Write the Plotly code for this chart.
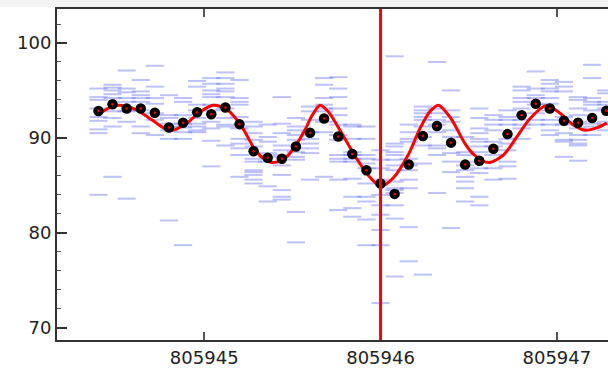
import plotly.graph_objects as go

# ---------------- data ----------------
dot_x = [805944.40, 805944.48, 805944.56, 805944.64, 805944.72, 805944.80, 805944.88, 805944.96,
         805945.04, 805945.12, 805945.20, 805945.28, 805945.36, 805945.44, 805945.52, 805945.60,
         805945.68, 805945.76, 805945.84, 805945.92, 805946.00, 805946.08, 805946.16, 805946.24,
         805946.32, 805946.40, 805946.48, 805946.56, 805946.64, 805946.72, 805946.80, 805946.88,
         805946.96, 805947.04, 805947.12, 805947.20, 805947.28]
dot_y = [92.84, 93.55, 93.1, 93.1, 92.65, 91.1, 91.6, 92.7, 92.5, 93.2, 91.45, 88.6, 87.9, 87.8,
         89.1, 90.55, 92.05, 90.15, 88.3, 86.6, 85.2, 84.1, 87.2, 90.2, 91.25, 89.5, 87.2, 87.6,
         88.85, 90.4, 92.4, 93.6, 93.1, 91.8, 91.6, 92.1, 92.85]

curve_x = [805944.399, 805944.484, 805944.541, 805944.617, 805944.711, 805944.806, 805944.901,
           805944.976, 805945.052, 805945.133, 805945.213, 805945.288, 805945.345, 805945.383,
           805945.449, 805945.515, 805945.572, 805945.610, 805945.657, 805945.704, 805945.789,
           805945.865, 805945.931, 805946.000, 805946.073, 805946.158, 805946.224, 805946.281,
           805946.328, 805946.394, 805946.479, 805946.526, 805946.612, 805946.697, 805946.773,
           805946.848, 805946.939, 805947.018, 805947.094, 805947.160, 805947.226, 805947.283]
curve_y = [92.50, 93.35, 93.40, 92.95, 91.80, 90.75, 91.55, 92.75, 93.45, 92.95, 91.20, 88.75,
           87.70, 87.40, 87.70, 89.10, 90.85, 92.30, 93.45, 92.75, 90.20, 87.80, 86.05, 84.90,
           85.80, 88.25, 91.00, 92.80, 93.45, 92.20, 89.40, 88.30, 87.40, 88.20, 90.10, 92.05,
           93.40, 92.60, 91.35, 90.80, 91.05, 91.55]

# individual samples per column (same order as dot_x)
dash_values = [
    [95.2, 94.3, 94.0, 93.1, 92.2, 91.8, 90.9, 90.5, 84.0],
    [95.6, 95.3, 95.0, 94.6, 94.2, 92.8, 92.1, 91.2, 85.9],
    [97.1, 95.2, 94.8, 94.2, 93.8, 92.8, 91.7, 83.6],
    [96.1, 94.9, 94.5, 94.2, 93.8, 92.9, 91.2, 90.5],
    [97.6, 95.4, 94.2, 93.6, 92.6, 91.9, 90.3],
    [94.5, 92.4, 92.1, 91.5, 91.2, 90.8, 89.9, 81.3],
    [94.2, 93.8, 92.4, 91.5, 91.1, 90.6, 89.9, 78.7],
    [96.0, 95.4, 93.5, 92.9, 92.1, 91.5, 91.2, 90.8, 90.6],
    [96.3, 95.7, 95.0, 94.6, 94.3, 93.5, 92.9, 91.7, 91.0, 89.7, 87.0],
    [96.9, 96.3, 95.7, 95.2, 94.9, 94.3, 93.1, 92.1, 91.4, 91.2, 89.2],
    [96.1, 94.2, 93.8, 93.5, 92.2, 91.0, 89.9, 89.4, 88.9, 88.2, 85.9],
    [91.7, 91.2, 90.5, 89.8, 89.1, 87.8, 87.5, 86.6, 86.4, 86.1, 85.6, 85.2],
    [91.4, 90.1, 89.6, 88.4, 88.0, 87.5, 84.9, 83.3],
    [94.3, 91.5, 90.5, 89.2, 88.7, 88.2, 87.1, 86.1, 84.5, 83.8, 83.5],
    [92.1, 91.2, 90.8, 90.3, 89.8, 88.5, 88.0, 87.7, 82.2, 79.0],
    [93.3, 92.8, 91.9, 90.6, 89.9, 89.4, 88.9, 88.4, 85.6],
    [96.3, 95.6, 94.2, 93.5, 93.1, 92.8, 91.7, 90.6, 85.9],
    [96.4, 95.2, 94.3, 93.1, 92.4, 91.4, 90.3, 89.8, 88.2, 87.8, 87.5, 85.6, 82.4],
    [91.4, 91.2, 89.9, 88.5, 88.2, 87.8, 87.5, 85.7, 83.8, 82.6, 81.7],
    [91.2, 89.9, 88.2, 87.8, 87.3, 86.8, 85.2, 83.8, 83.3, 81.4, 78.7],
    [88.7, 87.7, 86.8, 85.6, 84.0, 82.9, 81.9, 80.3, 78.7, 72.6],
    [98.6, 89.4, 89.1, 88.5, 88.2, 87.7, 87.1, 86.6, 85.4, 84.7, 84.5, 84.2, 82.9, 81.5, 75.4],
    [91.4, 90.6, 89.9, 89.6, 87.8, 87.1, 86.6, 85.6, 84.7, 80.6, 77.0],
    [93.3, 92.9, 92.6, 92.2, 91.9, 91.2, 90.1, 89.2, 87.3, 75.6],
    [98.0, 93.1, 92.6, 91.9, 91.4, 90.6, 89.2, 88.9, 88.2, 84.2],
    [95.0, 92.9, 92.2, 91.7, 90.8, 90.1, 88.4, 87.5, 86.4, 80.5],
    [90.1, 88.5, 88.2, 87.1, 86.6, 85.9, 85.4, 84.7, 83.3],
    [93.1, 92.1, 91.0, 90.5, 89.9, 89.6, 89.1, 88.5, 87.5, 86.8, 86.3, 83.8, 82.9],
    [92.4, 91.9, 91.4, 90.8, 89.6, 89.1, 88.2, 86.8, 85.6],
    [92.9, 92.2, 91.9, 91.4, 89.9, 89.4, 88.7, 87.5, 87.0, 85.7],
    [95.4, 95.0, 94.2, 93.8, 93.1, 91.9, 91.4, 91.0, 89.9],
    [97.0, 95.2, 94.5, 94.2, 93.5, 92.6, 91.9, 91.4],
    [96.1, 95.7, 95.2, 94.9, 94.2, 93.6, 92.9, 91.9, 91.4, 90.8, 90.3],
    [95.9, 95.4, 94.9, 92.2, 91.4, 90.5, 89.8, 89.6, 88.0],
    [94.3, 94.0, 93.1, 92.4, 91.7, 91.0, 90.3, 89.8, 89.4, 89.2, 87.6],
    [97.7, 96.3, 94.2, 93.8, 93.5, 92.9, 91.5, 91.2, 90.3],
    [95.0, 94.7, 93.8, 93.5, 93.1, 91.7, 91.4, 90.8],
]

marker_x = 805946
x_ticks = [805945, 805946, 805947]
y_ticks = [70, 80, 90, 100]
x_range = [805944.165, 805947.29]
y_range = [68.71, 103.58]

# ---------------- figure ----------------
dash_x, dash_y = [], []
for xv, col in zip(dot_x, dash_values):
    for v in col:
        dash_x.append(xv)
        dash_y.append(v)

fig = go.Figure()
fig.add_trace(go.Scatter(
    x=dash_x, y=dash_y, mode="markers", hoverinfo="skip",
    marker=dict(symbol="line-ew", size=13,
                line=dict(color="rgba(90,100,240,0.4)", width=2)),
))
fig.add_trace(go.Scatter(
    x=curve_x, y=curve_y, mode="lines", hoverinfo="skip",
    line=dict(color="#ff0000", width=3, shape="spline", smoothing=0.8),
))
fig.add_trace(go.Scatter(
    x=dot_x, y=dot_y, mode="markers",
    marker=dict(color="#000000", size=10.5, line=dict(width=0)),
))
fig.add_trace(go.Scatter(
    x=dot_x, y=dot_y, mode="markers",
    marker=dict(color="#ff0000", size=2.5, line=dict(width=0)),
))

fig.add_shape(type="line", xref="x", yref="paper", x0=marker_x, x1=marker_x, y0=0, y1=1,
              line=dict(color="#ff0000", width=3), layer="above")
# light band above the frame
fig.add_shape(type="rect", xref="paper", yref="paper", x0=-1, x1=2,
              y0=1 + 2 / 331, y1=1 + 9 / 331, fillcolor="#f3f3f3", line=dict(width=0),
              layer="below")

font = dict(family="DejaVu Sans", size=18, color="#222222")
fig.update_layout(
    width=608, height=370,
    margin=dict(l=57, r=0, t=9, b=30),
    paper_bgcolor="white", plot_bgcolor="white",
    showlegend=False,
    font=font,
)
fig.update_xaxes(
    range=x_range, tickvals=x_ticks, tickformat="d", exponentformat="none",
    showgrid=False, zeroline=False,
    showline=True, linecolor="#333333", linewidth=2, mirror="ticks",
    ticks="inside", ticklen=8, tickwidth=1.5, tickcolor="#555555",
    tickfont=font,
)
fig.update_yaxes(
    range=y_range, tickvals=y_ticks,
    showgrid=False, zeroline=False,
    showline=True, linecolor="#333333", linewidth=2,
    ticks="inside", ticklen=10, tickwidth=2, tickcolor="#333333",
    minor=dict(dtick=2, tick0=70, ticks="inside", ticklen=4, tickwidth=1, tickcolor="#555555"),
    tickfont=font,
)

fig.write_html("out.html")
